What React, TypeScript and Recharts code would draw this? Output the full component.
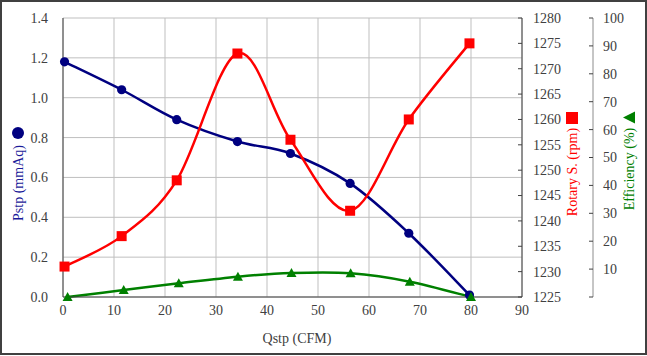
import React from 'react'
import { LineChart, Line, XAxis, YAxis, CartesianGrid } from 'recharts'

const flow = [0.3, 11.5, 22.3, 34.2, 44.6, 56.3, 67.8, 79.7]
const pstp = [1.18, 1.04, 0.89, 0.78, 0.72, 0.57, 0.32, 0.01]
const rpm = [1231, 1237, 1248, 1273, 1256, 1242, 1260, 1275]
const effFlow = [0.9, 11.9, 22.7, 34.3, 44.8, 56.4, 68.0, 80.0]
const eff = [0, 2.5, 4.9, 7.3, 8.6, 8.5, 5.5, 0]

const xTicks = [0, 10, 20, 30, 40, 50, 60, 70, 80, 90]
const pTicks = [0, 0.2, 0.4, 0.6, 0.8, 1.0, 1.2, 1.4]
const rpmTicks = [1225, 1230, 1235, 1240, 1245, 1250, 1255, 1260, 1265, 1270, 1275, 1280]
const effTicks = [0, 10, 20, 30, 40, 50, 60, 70, 80, 90, 100]

const NAVY = '#000080'
const RED = '#ff0000'
const GREEN = '#008000'
const AXIS = '#404040'
const FONT = 'Liberation Serif'

const pData = flow.map((x, i) => ({ x, y: pstp[i] }))
const rData = flow.map((x, i) => ({ x, y: rpm[i] }))
const eData = effFlow.map((x, i) => ({ x, y: eff[i] }))

// Excel-like smoothed line (uniform Catmull-Rom)
const smooth = (context: any) => {
  let pts: number[][] = []
  return {
    areaStart() {},
    areaEnd() {},
    lineStart() { pts = [] },
    point(x: number, y: number) { pts.push([+x, +y]) },
    lineEnd() {
      if (!pts.length) return
      context.moveTo(pts[0][0], pts[0][1])
      for (let i = 0; i < pts.length - 1; i++) {
        const p0 = pts[i - 1] || pts[i]
        const p1 = pts[i]
        const p2 = pts[i + 1]
        const p3 = pts[i + 2] || pts[i + 1]
        context.bezierCurveTo(
          p1[0] + (p2[0] - p0[0]) / 6, p1[1] + (p2[1] - p0[1]) / 6,
          p2[0] - (p3[0] - p1[0]) / 6, p2[1] - (p3[1] - p1[1]) / 6,
          p2[0], p2[1]
        )
      }
    },
  }
}

const circleDot = (p: any) => <circle key={p.index} cx={p.cx} cy={p.cy} r={4.6} fill={NAVY} />
const squareDot = (p: any) => <rect key={p.index} x={p.cx - 5} y={p.cy - 5} width={10} height={10} fill={RED} />
const triDot = (p: any) => (
  <polygon key={p.index} points={`${p.cx},${p.cy - 5} ${p.cx + 5},${p.cy + 4} ${p.cx - 5},${p.cy + 4}`} fill={GREEN} />
)

const tickStyle = { fontSize: 14, fontFamily: FONT }

const rightTick = (gap: number, fmt: (v: number) => string) => (p: any) => (
  <g>
    <line x1={p.x - 4} x2={p.x} y1={p.y} y2={p.y} stroke={AXIS} />
    <text x={p.x + gap} y={p.y} dy="0.35em" fill={AXIS} style={tickStyle} textAnchor="start">
      {fmt(p.payload.value)}
    </text>
  </g>
)

export default function App() {
  return (
    <div style={{ position: 'absolute', left: 0, top: 0, width: 647, height: 356, background: '#fff' }}>
      <LineChart width={647} height={356} margin={{ top: 18, right: 0, bottom: 0, left: 0 }}>
        <CartesianGrid yAxisId="p" stroke="#bfbfbf" />
        <XAxis
          dataKey="x"
          type="number"
          domain={[0, 90]}
          ticks={xTicks}
          height={59}
          tickLine={false}
          tickSize={0}
          tickMargin={8}
          axisLine={{ stroke: AXIS }}
          tick={{ fill: AXIS, style: tickStyle }}
          label={{
            content: () => (
              <text x={297} y={338} dy="0.35em" textAnchor="middle" fill={AXIS} style={tickStyle}>
                Qstp (CFM)
              </text>
            ),
          }}
        />
        <YAxis
          yAxisId="p"
          domain={[0, 1.4]}
          ticks={pTicks}
          width={63}
          tickLine={false}
          tickSize={0}
          tickMargin={15}
          tickFormatter={(v: number) => v.toFixed(1)}
          axisLine={{ stroke: AXIS }}
          tick={{ fill: AXIS, style: tickStyle }}
          label={{
            content: () => (
              <g>
                <text x={18} y={183} dy="0.35em" textAnchor="middle" fill="#1a1a99" style={tickStyle} transform="rotate(-90 18 183)">
                  Pstp (mmAq)
                </text>
                <circle cx={18} cy={133} r={6} fill={NAVY} />
              </g>
            ),
          }}
        />
        <YAxis
          yAxisId="r1"
          orientation="right"
          domain={[1225, 1280]}
          ticks={rpmTicks}
          width={71}
          tickLine={false}
          tickSize={0}
          tickMargin={0}
          axisLine={{ stroke: AXIS }}
          tick={rightTick(11, (v) => String(v))}
          label={{
            content: () => (
              <g>
                <text x={572} y={172} dy="0.35em" textAnchor="middle" fill={RED} style={tickStyle} transform="rotate(-90 572 172)">
                  Rotary S. (rpm)
                </text>
                <rect x={566} y={112} width={12} height={12} fill={RED} />
              </g>
            ),
          }}
        />
        <YAxis
          yAxisId="r2"
          orientation="right"
          domain={[0, 100]}
          ticks={effTicks}
          width={54}
          tickLine={false}
          tickSize={0}
          tickMargin={0}
          axisLine={{ stroke: '#8c8c8c' }}
          tick={rightTick(10, (v) => (v === 0 ? '' : String(v)))}
          label={{
            content: () => (
              <g>
                <text x={629} y={169} dy="0.35em" textAnchor="middle" fill={GREEN} style={tickStyle} transform="rotate(-90 629 169)">
                  Efficiency (%)
                </text>
                <polygon points="623,117.5 635,111.5 635,123.5" fill={GREEN} />
              </g>
            ),
          }}
        />
        <Line
          yAxisId="p"
          data={pData}
          dataKey="y"
          type={smooth as any}
          stroke={NAVY}
          strokeWidth={2.5}
          dot={circleDot}
          activeDot={false}
          isAnimationActive={false}
        />
        <Line
          yAxisId="r1"
          data={rData}
          dataKey="y"
          type={smooth as any}
          stroke={RED}
          strokeWidth={2.5}
          dot={squareDot}
          activeDot={false}
          isAnimationActive={false}
        />
        <Line
          yAxisId="r2"
          data={eData}
          dataKey="y"
          type={smooth as any}
          stroke={GREEN}
          strokeWidth={2.5}
          dot={triDot}
          activeDot={false}
          isAnimationActive={false}
        />
      </LineChart>
      <div
        style={{
          position: 'absolute',
          left: 0,
          top: 0,
          width: 647,
          height: 355,
          boxSizing: 'border-box',
          border: '2px solid #404040',
          pointerEvents: 'none',
        }}
      />
    </div>
  )
}
